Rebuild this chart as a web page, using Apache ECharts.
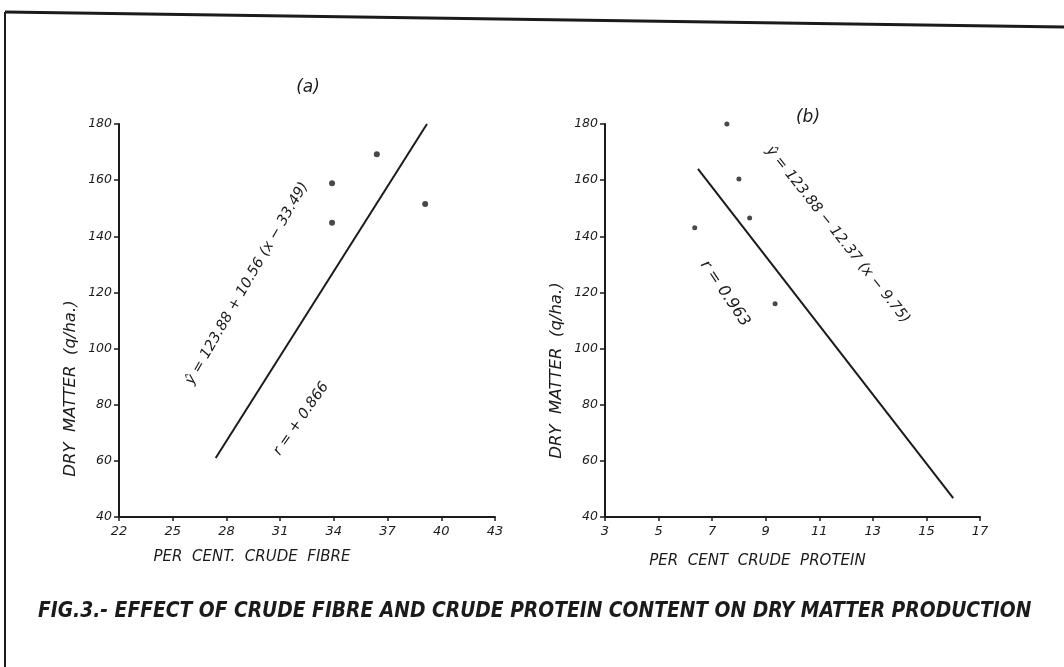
<!DOCTYPE html>
<html><head><meta charset="utf-8">
<script src="https://cdn.jsdelivr.net/npm/echarts@6/dist/echarts.min.js"></script>
<style>html,body{margin:0;background:#fff}#c{width:1064px;height:667px}</style>
</head>
<body><div id="c"></div>
<script>
// ---- data ----
const fibreTicks = [22, 25, 28, 31, 34, 37, 40, 43];
const proteinTicks = [3, 5, 7, 9, 11, 13, 15, 17];
const dryMatterTicks = [40, 60, 80, 100, 120, 140, 160, 180];
const fibrePoints = [[33.9, 158.9], [33.9, 144.8], [36.4, 169.2], [39.1, 151.5]];
const fibreLine = [[27.4, 61], [39.2, 180]];
const proteinPoints = [[7.55, 180], [8.0, 160.4], [8.4, 146.5], [6.35, 143], [9.35, 116]];
const proteinLine = [[6.47, 164], [16.0, 46.7]];
const fibreNotes = ['ŷ = 123.88 + 10.56 (x − 33.49)', 'r = + 0.866'];
const fibreNoteAt = [[29.15, 123.2], [32.17, 75.0]];
const proteinNotes = ['ŷ = 123.88 − 12.37 (x − 9.75)', 'r = 0.963'];
const proteinNoteAt = [[11.69, 140.5], [7.48, 119.6]];
const panelTitles = ['(a)', '(b)'];
const xNames = ['PER  CENT.  CRUDE  FIBRE', 'PER  CENT  CRUDE  PROTEIN'];
const yName = 'DRY  MATTER  (q/ha.)';
const caption = 'FIG.3.- EFFECT OF CRUDE FIBRE AND CRUDE PROTEIN CONTENT ON DRY MATTER PRODUCTION';

const ink = '#1b1b1b';
const font = 'DejaVu Sans';
const txt = (size, extra) => Object.assign({color: ink, fontFamily: font, fontStyle: 'italic', fontSize: size}, extra || {});

function xAxis(idx, ticks, name, padRight, gap) {
  return {
    gridIndex: idx, type: 'value', min: ticks[0], max: ticks[ticks.length - 1],
    name: name, nameLocation: 'middle', nameGap: gap,
    nameTextStyle: txt(15, {padding: [0, padRight, 0, 0]}),
    axisLine: {show: true, onZero: false, lineStyle: {color: ink, width: 2}},
    axisTick: {show: true, length: 4, customValues: ticks, lineStyle: {color: ink, width: 1.5}},
    axisLabel: {customValues: ticks, margin: 8, ...txt(13)},
    splitLine: {show: false}
  };
}
function yAxis(idx, padRight) {
  return {
    gridIndex: idx, type: 'value', min: dryMatterTicks[0], max: dryMatterTicks[dryMatterTicks.length - 1], interval: 20,
    name: yName, nameLocation: 'middle', nameGap: 40, nameRotate: 90,
    nameTextStyle: txt(16.5, {padding: [0, padRight, 0, 0]}),
    axisLine: {show: true, onZero: false, lineStyle: {color: ink, width: 2}},
    axisTick: {show: true, length: 5, lineStyle: {color: ink, width: 1.5}},
    axisLabel: {margin: 7, ...txt(12.5)},
    splitLine: {show: false}
  };
}
function notes(texts, at, rots, sizes) {
  return {
    symbol: 'circle', symbolSize: 1, itemStyle: {color: 'rgba(0,0,0,0)'},
    data: texts.map((t, i) => ({
      coord: at[i], value: 0,
      label: {show: true, position: 'inside', formatter: t, rotate: rots[i], ...txt(sizes[i])}
    }))
  };
}

const chart = echarts.init(document.getElementById('c'));
chart.setOption({
  backgroundColor: '#ffffff',
  animation: false,
  title: [
    {text: panelTitles[0], left: 303, top: 74, textAlign: 'center', textStyle: txt(17, {fontWeight: 'normal'})},
    {text: panelTitles[1], left: 803, top: 104, textAlign: 'center', textStyle: txt(17, {fontWeight: 'normal'})},
    {text: caption, left: 33, top: 596, textStyle: txt(20.8, {fontWeight: 'bold', fontFamily: 'DejaVu Sans Condensed'})}
  ],
  grid: [
    {left: 119, top: 124, width: 376, height: 393},
    {left: 605, top: 124, width: 375, height: 393}
  ],
  xAxis: [xAxis(0, fibreTicks, xNames[0], 110, 33), xAxis(1, proteinTicks, xNames[1], 70, 37)],
  yAxis: [yAxis(0, 136), yAxis(1, 100)],
  series: [
    {type: 'line', xAxisIndex: 0, yAxisIndex: 0, data: fibreLine, symbol: 'none',
     lineStyle: {color: ink, width: 2}, markPoint: notes(fibreNotes, fibreNoteAt, [60, 55], [14.5, 14.5])},
    {type: 'scatter', xAxisIndex: 0, yAxisIndex: 0, data: fibrePoints, symbolSize: 6, itemStyle: {color: ink}},
    {type: 'line', xAxisIndex: 1, yAxisIndex: 1, data: proteinLine, symbol: 'none',
     lineStyle: {color: ink, width: 2}, markPoint: notes(proteinNotes, proteinNoteAt, [-51.5, -56], [14.5, 16])},
    {type: 'scatter', xAxisIndex: 1, yAxisIndex: 1, data: proteinPoints, symbolSize: 5, itemStyle: {color: ink}}
  ],
  graphic: [
    {type: 'line', shape: {x1: 5, y1: 12, x2: 1064, y2: 27}, style: {stroke: ink, lineWidth: 3}},
    {type: 'line', shape: {x1: 5, y1: 12, x2: 5, y2: 667}, style: {stroke: ink, lineWidth: 2}}
  ]
});
</script>
</body></html>
